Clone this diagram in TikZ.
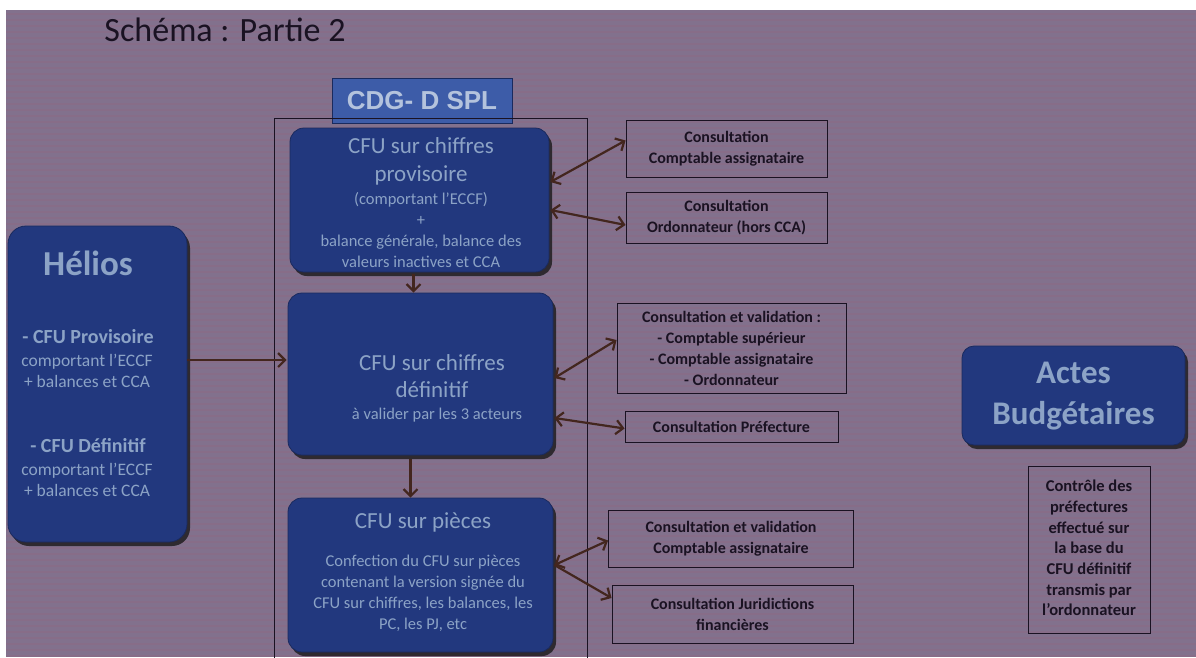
\documentclass[tikz,border=0pt]{standalone}
\usepackage{fontspec}
\setmainfont{Carlito}
\newfontfamily\arialfont{Liberation Sans}
\usetikzlibrary{arrows.meta,shadows,calc}
\definecolor{bgslide}{HTML}{82718D}
\definecolor{stripecol}{HTML}{9A5F78}
\definecolor{boxblue}{HTML}{22387E}
\definecolor{boxline}{HTML}{1A2A5E}
\definecolor{boxtext}{HTML}{8CA3C6}
\definecolor{arrcol}{HTML}{43261E}
\definecolor{ink}{HTML}{1A1222}
\definecolor{cdgfill}{HTML}{3D5CA8}
\definecolor{cdgtext}{HTML}{B4C3DD}
\newcommand{\fsz}[2]{\fontsize{#1}{#2}\selectfont}
\begin{document}
\begin{tikzpicture}[x=1pt,y=-1pt,
  bluebox/.style={draw=boxline, line width=0.8pt, fill=boxblue, rounded corners=#1,
    drop shadow={shadow xshift=3pt, shadow yshift=-4pt, fill=black!90, opacity=0.8}},
  bluebox/.default=14pt,
  btext/.style={text=boxtext, align=center, inner sep=0pt},
  infobox/.style={draw=ink, line width=0.9pt, text=ink, align=center, inner sep=0pt,
    font=\bfseries\fsz{16}{21}},
  itext/.style={text=ink, align=center, inner sep=0pt, font=\bfseries\fsz{16}{21}},
  tip/.style={Straight Barb[length=7pt,width=14pt]},
  arr/.style={draw=arrcol, line width=2.2pt, -{Straight Barb[length=7pt,width=14pt]}},
  dbl/.style={draw=arrcol, line width=2.2pt, {Straight Barb[length=7pt,width=14pt]}-{Straight Barb[length=7pt,width=14pt]}}
]
\useasboundingbox (0,0) rectangle (1196,657);
\fill[white] (0,0) rectangle (1196,657);
\fill[bgslide] (6,10) rectangle (1196,657);
\foreach \yy in {14,20,...,656} {
  \draw[stripecol, opacity=0.22, line width=1.5pt] (6,\yy) -- (1196,\yy);
}

% title
\node[text=ink, inner sep=0pt, font=\fsz{34}{40}] (title) at (225,30) {Schéma : Partie 2};

% CDG header
\node[draw=boxline, line width=1pt, fill=cdgfill, minimum width=180, minimum height=45, inner sep=0pt,
  text=cdgtext, font=\arialfont\bfseries\fsz{26}{30}] (cdg) at (422,101) {CDG- D SPL};

% frame
\draw[ink, line width=0.9pt] (274,660) -- (274,118) -- (587,118) -- (587,660);

% main boxes
\node[bluebox, minimum width=259, minimum height=144] (box1) at (419.5,200) {};
\node[bluebox, minimum width=265, minimum height=162] (box2) at (420.5,374) {};
\node[bluebox, minimum width=265, minimum height=154] (box3) at (420.5,575) {};
\node[bluebox=18pt, minimum width=179, minimum height=316] (helios) at (97.5,384) {};
\node[bluebox=12pt, minimum width=223, minimum height=99] (actes) at (1073.5,395.5) {};

% box texts
\node[btext, font=\fsz{23}{28}] (b1a) at (421,161) {CFU sur chiffres\\provisoire};
\node[btext, font=\fsz{16.5}{21}] (b1b) at (421,230.5) {(comportant l'ECCF)\\+\\balance générale, balance des\\valeurs inactives et CCA};
\node[btext, font=\fsz{23}{27}] (b2a) at (432,376.5) {CFU sur chiffres\\définitif};
\node[btext, font=\fsz{16.5}{21}] (b2b) at (437,415) {à valider par les 3 acteurs};
\node[btext, font=\fsz{23}{28}] (b3a) at (423,522) {CFU sur pièces};
\node[btext, font=\fsz{16.5}{21}] (b3b) at (423,593.5) {Confection du CFU sur pièces\\contenant la version signée du\\CFU sur chiffres, les balances, les\\PC, les PJ, etc};

\node[btext, font=\bfseries\fsz{35}{40}] (h1) at (88,263) {Hélios};
\node[btext, font=\bfseries\fsz{20}{24}] (h2) at (88,337) {- CFU Provisoire};
\node[btext, font=\fsz{17.5}{20.5}] (h3) at (87,371) {comportant l'ECCF\\+ balances et CCA};
\node[btext, font=\bfseries\fsz{20}{24}] (h4) at (88,446) {- CFU Définitif};
\node[btext, font=\fsz{17.5}{21}] (h5) at (87,479.5) {comportant l'ECCF\\+ balances et CCA};

\node[btext, font=\bfseries\fsz{33}{41}] (actestext) at (1073.5,396) {Actes\\Budgétaires};

% info boxes
\node[infobox, minimum width=201, minimum height=57] (r1) at (726.5,148.5) {Consultation\\Comptable assignataire};
\node[infobox, minimum width=201, minimum height=51] (r2) at (726.5,218) {Consultation\\Ordonnateur (hors CCA)};
\node[infobox, minimum width=229, minimum height=90] (r3) at (731.5,348) {Consultation et validation :\\- Comptable supérieur\\- Comptable assignataire\\- Ordonnateur};
\node[infobox, minimum width=213, minimum height=31] (r4) at (731.5,426.5) {Consultation Préfecture};
\node[infobox, minimum width=245, minimum height=57] (r5) at (731,538.5) {Consultation et validation\\Comptable assignataire};
\node[infobox, minimum width=241, minimum height=58] (r6) at (732.5,614) {Consultation Juridictions\\financières};
\node[draw=ink, line width=0.9pt, minimum width=122, minimum height=167, inner sep=0pt] (ctrl) at (1089,549.5) {};
\node[itext, font=\bfseries\fsz{16.5}{20.7}] (ctrltext) at (1089,548) {Contrôle des\\préfectures\\effectué sur\\la base du\\CFU définitif\\transmis par\\l'ordonnateur};

% connectors
\draw[dbl] ($(box1.east)+(1,-18)$) -- ($(r1.west)+(0,-8)$);
\draw[dbl] ($(box1.east)+(1,10)$) -- ($(r2.west)+(0,7)$);
\draw[dbl] ($(box2.east)+(1,4)$) -- ($(r3.west)+(0,-8)$);
\draw[dbl] ($(box2.east)+(1,44)$) -- ($(r4.west)+(0,2)$);
\draw[dbl] ($(box3.east)+(1,-10)$) -- ($(r5.west)+(0,2)$);
\draw[arr] ($(box3.east)+(1,-10)$) -- ($(r6.west)+(0,-16)$);
\draw[arr] ($(box1.south)+(-6,2)$) -- ($(box2.north)+(-7,0)$);
\draw[arr] ($(box2.south)+(-10,4)$) -- ($(box3.north)+(-10,0)$);
\draw[arr] ($(helios.east)+(0,-24)$) -- ($(box2.west)+(-1,-14)$);
\end{tikzpicture}
\end{document}
